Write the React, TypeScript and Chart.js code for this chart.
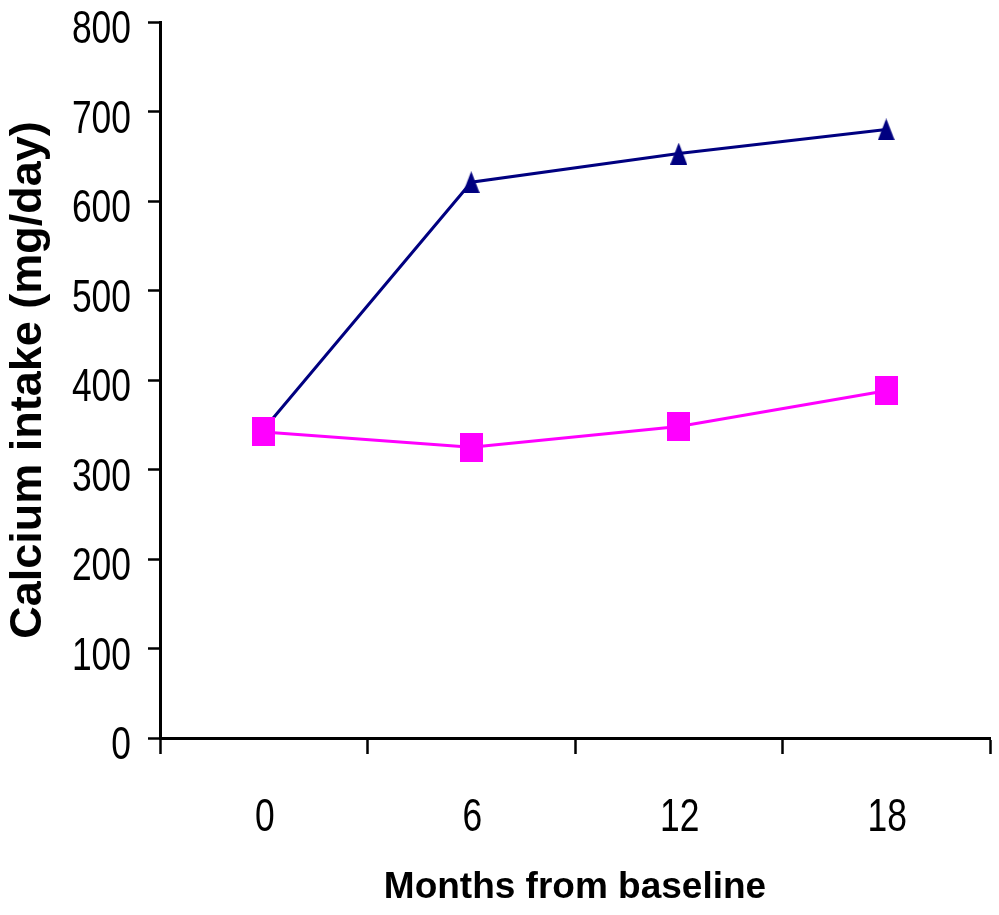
import React, { useEffect, useRef } from "react";
import { Chart, registerables } from "chart.js";

Chart.register(...registerables);

const categories = ["0", "6", "12", "18"];
const interventionValues = [345, 621, 653, 680];
const controlValues = [342, 325, 348, 388];
const yMin = 0;
const yMax = 800;
const yStep = 100;
const xTitle = "Months from baseline";
const yTitle = "Calcium intake (mg/day)";

function makeTriangle(w: number, h: number, color: string) {
  const c = document.createElement("canvas");
  c.width = w;
  c.height = h;
  const ctx = c.getContext("2d")!;
  ctx.fillStyle = color;
  ctx.beginPath();
  ctx.moveTo(w / 2, 0);
  ctx.lineTo(w, h);
  ctx.lineTo(0, h);
  ctx.closePath();
  ctx.fill();
  return c;
}

function makeRect(w: number, h: number, color: string) {
  const c = document.createElement("canvas");
  c.width = w;
  c.height = h;
  const ctx = c.getContext("2d")!;
  ctx.fillStyle = color;
  ctx.fillRect(0, 0, w, h);
  return c;
}

const TICK_FONT = "46px 'Liberation Sans', Arial, sans-serif";
const SQUEEZE = 0.77;

const narrowTicks = {
  id: "narrowTicks",
  afterDraw(chart: any) {
    const ctx = chart.ctx;
    const y = chart.scales.y;
    const x = chart.scales.x;
    ctx.save();
    ctx.fillStyle = "#000";
    ctx.font = TICK_FONT;
    ctx.textBaseline = "alphabetic";
    y.ticks.forEach((t: any, i: number) => {
      const py = y.getPixelForTick(i);
      ctx.save();
      ctx.translate(y.right - 29, py + 21);
      ctx.scale(SQUEEZE, 1);
      ctx.textAlign = "right";
      ctx.fillText(String(t.label), 0, 0);
      ctx.restore();
    });
    categories.forEach((lab, i) => {
      const px = x.getPixelForValue(i);
      ctx.save();
      ctx.translate(px + 1, x.top + 93);
      ctx.scale(SQUEEZE, 1);
      ctx.textAlign = "center";
      ctx.fillText(lab, 0, 0);
      ctx.restore();
    });
    ctx.restore();
  },
};

export default function App() {
  const ref = useRef<HTMLCanvasElement | null>(null);

  useEffect(() => {
    if (!ref.current) return;
    const tri = makeTriangle(17, 22, "#000080");
    const sq = makeRect(23, 29, "#FF00FF");
    const zeroPad = (s: any) => {
      s.paddingTop = 0;
      s.paddingBottom = 0;
      s.paddingLeft = 0;
      s.paddingRight = 0;
    };
    const chart = new Chart(ref.current, {
      type: "line",
      data: {
        labels: categories,
        datasets: [
          {
            label: "Control",
            data: controlValues,
            borderColor: "#FF00FF",
            backgroundColor: "#FF00FF",
            borderWidth: 3,
            pointStyle: sq as any,
            pointRadius: 12,
            tension: 0,
            order: 1,
          },
          {
            label: "Intervention",
            data: interventionValues,
            borderColor: "#000080",
            backgroundColor: "#000080",
            borderWidth: 3,
            pointStyle: tri as any,
            pointRadius: 10,
            tension: 0,
            order: 2,
          },
        ],
      },
      options: {
        animation: false,
        responsive: false,
        maintainAspectRatio: false,
        layout: { autoPadding: false, padding: { top: 22, right: 9, left: 0, bottom: 0 } },
        plugins: { legend: { display: false }, tooltip: { enabled: false } },
        scales: {
          x: {
            type: "category",
            offset: true,
            grid: {
              offset: true,
              drawOnChartArea: false,
              drawTicks: true,
              tickLength: 16,
              tickWidth: 2.5,
              tickColor: "#000",
            },
            border: { display: true, color: "#000", width: 3 },
            ticks: {
              color: "rgba(0,0,0,0)",
              padding: 33,
              font: { size: 20 },
              maxRotation: 0,
            },
            title: {
              display: true,
              text: xTitle,
              color: "#000",
              font: { family: "'Liberation Sans', Arial", size: 37, weight: "bold", lineHeight: 1.2 },
              padding: { top: 0, bottom: 5 },
            },
            afterFit: (s: any) => {
              s.height = 177;
              zeroPad(s);
            },
          },
          y: {
            min: yMin,
            max: yMax,
            grid: {
              drawOnChartArea: false,
              drawTicks: true,
              tickLength: 12,
              tickWidth: 2.5,
              tickColor: "#000",
            },
            border: { display: true, color: "#000", width: 3 },
            ticks: {
              stepSize: yStep,
              color: "rgba(0,0,0,0)",
              padding: 18,
              font: { size: 20 },
            },
            title: {
              display: true,
              text: yTitle,
              color: "#000",
              font: { family: "'Liberation Sans', Arial", size: 45, weight: "bold", lineHeight: 1.2 },
              padding: { top: 2, bottom: 0 },
            },
            afterFit: (s: any) => {
              s.width = 160;
              zeroPad(s);
            },
          },
        },
      },
      plugins: [narrowTicks],
    });
    return () => chart.destroy();
  }, []);

  return (
    <div style={{ position: "absolute", left: 0, top: 0, width: 999, height: 915, background: "#fff" }}>
      <canvas ref={ref} width={999} height={915} style={{ display: "block", width: 999, height: 915 }} />
    </div>
  );
}
